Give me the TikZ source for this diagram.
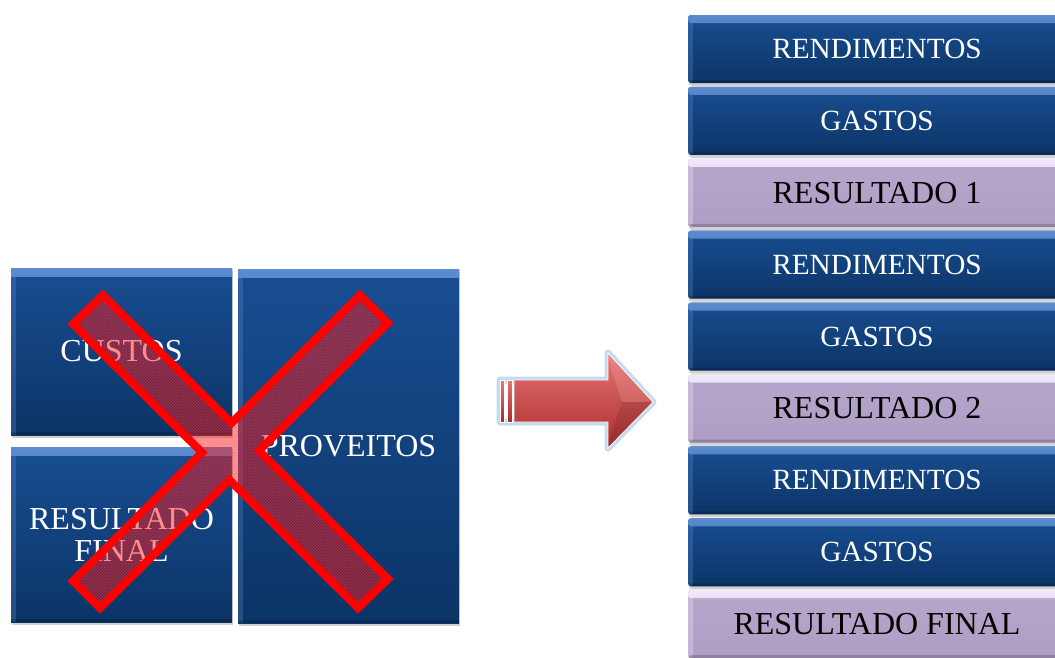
\documentclass[tikz,border=0pt]{standalone}
\usepackage{fontspec}
\setmainfont{Liberation Serif}
\usetikzlibrary{shadows,patterns,calc}

\definecolor{blueHi}{RGB}{92,140,206}
\definecolor{blueTop}{RGB}{24,78,146}
\definecolor{blueBot}{RGB}{12,52,102}
\definecolor{lilacHi}{RGB}{240,232,250}
\definecolor{lilacTop}{RGB}{182,166,204}
\definecolor{lilacBot}{RGB}{174,158,196}
\definecolor{arrowHi}{RGB}{232,118,116}
\definecolor{arrowMid}{RGB}{200,68,66}
\definecolor{arrowLo}{RGB}{168,44,44}
\definecolor{glowBlue}{RGB}{150,190,230}
\definecolor{crossRed}{RGB}{255,0,0}

% bevelled tile: light top edge, light left edge, dark bottom edge
\newcommand\tilebevel[2]{%
  \shade[top color=#1, bottom color=#2]
    (path picture bounding box.north west) rectangle ([yshift=-8pt]path picture bounding box.north east);
  \fill[#1, opacity=0.3]
    (path picture bounding box.north west) rectangle ([xshift=5pt]path picture bounding box.south west);
  \fill[black, opacity=0.18]
    (path picture bounding box.south west) rectangle ([yshift=3pt]path picture bounding box.south east);
}

\tikzset{
  tile/.style={rectangle, inner sep=0pt, align=center,
    drop shadow={shadow xshift=1pt, shadow yshift=-3pt, opacity=0.3, fill=black!60}},
  bluetile/.style={tile, top color=blueTop, bottom color=blueBot, text=white,
    path picture={\tilebevel{blueHi}{blueTop}}},
  liltile/.style={tile, top color=lilacTop, bottom color=lilacBot, text=black,
    path picture={\tilebevel{lilacHi}{lilacTop}}},
  bigfont/.style={font=\fontsize{32}{35}\selectfont},
  rowfont/.style={font=\fontsize{29.3}{32}\selectfont},
  resfont/.style={font=\fontsize{32}{35}\selectfont},
  row/.style={minimum width=378pt, minimum height=68pt, rounded corners=3pt, rowfont},
}

\begin{document}
\begin{tikzpicture}[x=1pt, y=-1pt]
\useasboundingbox (0,0) rectangle (1055,657);

% ---- left block of tiles
\node[bluetile, bigfont, minimum width=221pt, minimum height=167pt] (custos) at (121.5,351.5) {CUSTOS};
\node[bluetile, bigfont, minimum width=221pt, minimum height=354pt] (proveitos) at (348.5,446) {PROVEITOS};
\node[bluetile, bigfont, minimum width=221pt, minimum height=175pt] (resfinal) at (121.5,534.5) {RESULTADO\\[-3pt]FINAL};

% ---- crossing-out mark
\coordinate (p1) at (103,295);
\coordinate (p2) at (388,579);
\coordinate (p3) at (358,608);
\coordinate (p4) at (73,324);
\coordinate (q1) at (360,295);
\coordinate (q2) at (388,323);
\coordinate (q3) at (100,608);
\coordinate (q4) at (73,581);
\def\crosspath{(p1) -- (intersection of p1--p2 and q1--q4) -- (q1) -- (q2)
  -- (intersection of q2--q3 and p1--p2) -- (p2) -- (p3)
  -- (intersection of p3--p4 and q2--q3) -- (q3) -- (q4)
  -- (intersection of q4--q1 and p3--p4) -- (p4) -- cycle}
\fill[crossRed, fill opacity=0.38] \crosspath;
\fill[pattern=crosshatch, pattern color=crossRed!70, opacity=0.35] \crosspath;
\draw[crossRed, line width=8pt, line join=miter] \crosspath;

% ---- block arrow
\coordinate (s0) at (514,380);
\draw[glowBlue, line width=7pt, opacity=0.55, line join=round]
  (500,380) -- (608,380) -- (608,353) -- (653,402) -- (608,448) -- (608,422) -- (500,422) -- cycle;
\shade[top color=arrowHi, middle color=arrowMid, bottom color=arrowLo, draw=white, line width=0.8pt]
  (500,380) rectangle (504,422);
\shade[top color=arrowHi, middle color=arrowMid, bottom color=arrowLo, draw=white, line width=0.8pt]
  (507,380) rectangle (512,422);
\shade[top color=arrowHi, middle color=arrowMid, bottom color=arrowLo, draw=white, line width=0.8pt]
  (s0) -- (608,380) -- (608,353) -- (653,402) -- (608,448) -- (608,422) -- (514,422) -- cycle;
\fill[white, opacity=0.12] (608,353) -- (653,402) -- (622,402) -- (612,372) -- cycle;
\fill[black, opacity=0.10] (608,448) -- (653,402) -- (622,402) -- (612,432) -- cycle;

% ---- right column
\node[bluetile, row] (r1) at (877,49)    {RENDIMENTOS};
\node[bluetile, row] (r2) at (877,120.9) {GASTOS};
\node[liltile,  row, resfont] (r3) at (877,192.8) {RESULTADO 1};
\node[bluetile, row] (r4) at (877,264.7) {RENDIMENTOS};
\node[bluetile, row] (r5) at (877,336.6) {GASTOS};
\node[liltile,  row, resfont] (r6) at (877,408.5) {RESULTADO 2};
\node[bluetile, row] (r7) at (877,480.4) {RENDIMENTOS};
\node[bluetile, row] (r8) at (877,552.3) {GASTOS};
\node[liltile,  row, resfont] (r9) at (877,624.2) {RESULTADO FINAL};
\end{tikzpicture}
\end{document}
